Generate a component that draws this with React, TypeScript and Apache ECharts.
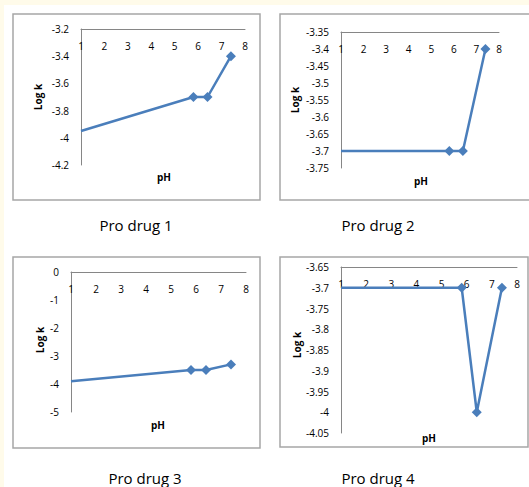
import React, { useEffect, useRef } from "react";
import * as echarts from "echarts";

const phValues = [1, 5.8, 6.4, 7.4];
const drug1 = [-3.95, -3.7, -3.7, -3.4];
const drug2 = [-3.7, -3.7, -3.7, -3.4];
const drug3 = [-3.9, -3.5, -3.5, -3.3];
const drug4 = [-3.7, -3.7, -4.0, -3.7];
const captions = ["Pro drug 1", "Pro drug 2", "Pro drug 3", "Pro drug 4"];
const yRanges = [
  { min: -4.2, max: -3.2, interval: 0.2 },
  { min: -3.75, max: -3.35, interval: 0.05 },
  { min: -5, max: 0, interval: 1 },
  { min: -4.05, max: -3.65, interval: 0.05 },
];
const seriesData = [drug1, drug2, drug3, drug4];

const grids = [
  { left: 81, top: 29, width: 164, height: 136 },
  { left: 341, top: 32, width: 158, height: 136 },
  { left: 71, top: 272, width: 175, height: 140 },
  { left: 341, top: 267, width: 176, height: 166 },
];
const panels = [
  { x: 13, y: 14, w: 247, h: 186 },
  { x: 280, y: 14, w: 260, h: 186 },
  { x: 13, y: 257, w: 247, h: 191 },
  { x: 280, y: 257, w: 248, h: 190 },
];
const logkPos = [
  [38, 97],
  [295, 100],
  [40, 340],
  [297, 345],
];
const phPos = [
  [164, 177],
  [421, 181],
  [158, 425],
  [429, 438],
];
const captionPos = [
  [136, 225],
  [378, 225],
  [145, 478],
  [378, 478],
];

const AXIS_COLOR = "#868686";
const LINE_COLOR = "#4A7EBB";
const FONT = "'Open Sans', 'Noto Sans', sans-serif";

export default function App() {
  const ref = useRef<HTMLDivElement>(null);
  useEffect(() => {
    document.body.style.margin = "0";
    const chart = echarts.init(ref.current!, null, { renderer: "svg" });
    const graphic: any[] = [
      { type: "rect", shape: { x: 0, y: 0, width: 529, height: 5 }, style: { fill: "#FFFBEA" }, silent: true },
      { type: "rect", shape: { x: 0, y: 0, width: 4, height: 487 }, style: { fill: "#FFFBEA" }, silent: true },
    ];
    panels.forEach((p) => {
      graphic.push({
        type: "rect",
        shape: { x: p.x, y: p.y, width: p.w, height: p.h },
        style: { fill: "#ffffff", stroke: "#A6A6A6", lineWidth: 1.5 },
        silent: true,
        z: -10,
      });
    });
    logkPos.forEach(([x, y]) => {
      graphic.push({
        type: "text",
        x,
        y,
        rotation: Math.PI / 2,
        style: {
          text: "Log k",
          font: `bold 10px ${FONT}`,
          fill: "#000",
          align: "center",
          verticalAlign: "middle",
        },
      });
    });
    phPos.forEach(([x, y]) => {
      graphic.push({
        type: "text",
        x,
        y,
        style: {
          text: "pH",
          font: `bold 10px ${FONT}`,
          fill: "#000",
          align: "center",
          verticalAlign: "middle",
        },
      });
    });
    captionPos.forEach(([x, y], i) => {
      graphic.push({
        type: "text",
        x,
        y,
        style: {
          text: captions[i],
          font: `15px ${FONT}`,
          fill: "#000",
          align: "center",
          verticalAlign: "middle",
        },
      });
    });

    chart.setOption({
      animation: false,
      backgroundColor: "#ffffff",
      grid: grids.map((g) => ({ ...g, containLabel: false })),
      xAxis: grids.map((_, i) => ({
        type: "value",
        gridIndex: i,
        min: 1,
        max: 8,
        interval: 1,
        position: "top",
        axisLine: { show: true, onZero: false, lineStyle: { color: AXIS_COLOR, width: 1 } },
        axisTick: { show: false },
        splitLine: { show: false },
        axisLabel: {
          inside: true,
          margin: 12,
          color: "#000",
          fontSize: 10,
          fontFamily: FONT,
        },
      })),
      yAxis: yRanges.map((r, i) => ({
        type: "value",
        gridIndex: i,
        min: r.min,
        max: r.max,
        interval: r.interval,
        axisLine: { show: true, onZero: false, lineStyle: { color: AXIS_COLOR, width: 1 } },
        axisTick: { show: false },
        splitLine: { show: false },
        axisLabel: {
          margin: 12,
          color: "#000",
          fontSize: 10,
          fontFamily: FONT,
          formatter: (v: number) => String(parseFloat(v.toFixed(2))),
        },
      })),
      series: seriesData.map((d, i) => ({
        type: "line",
        xAxisIndex: i,
        yAxisIndex: i,
        data: d.map((v, j) =>
          j === 0
            ? { value: [phValues[j], v], symbol: "none" }
            : { value: [phValues[j], v] }
        ),
        symbol: "diamond",
        symbolSize: 10,
        showSymbol: true,
        lineStyle: { color: LINE_COLOR, width: 2.5 },
        itemStyle: { color: LINE_COLOR },
        clip: false,
      })),
      graphic,
    });
    return () => chart.dispose();
  }, []);
  return <div ref={ref} style={{ width: 529, height: 487 }} />;
}
